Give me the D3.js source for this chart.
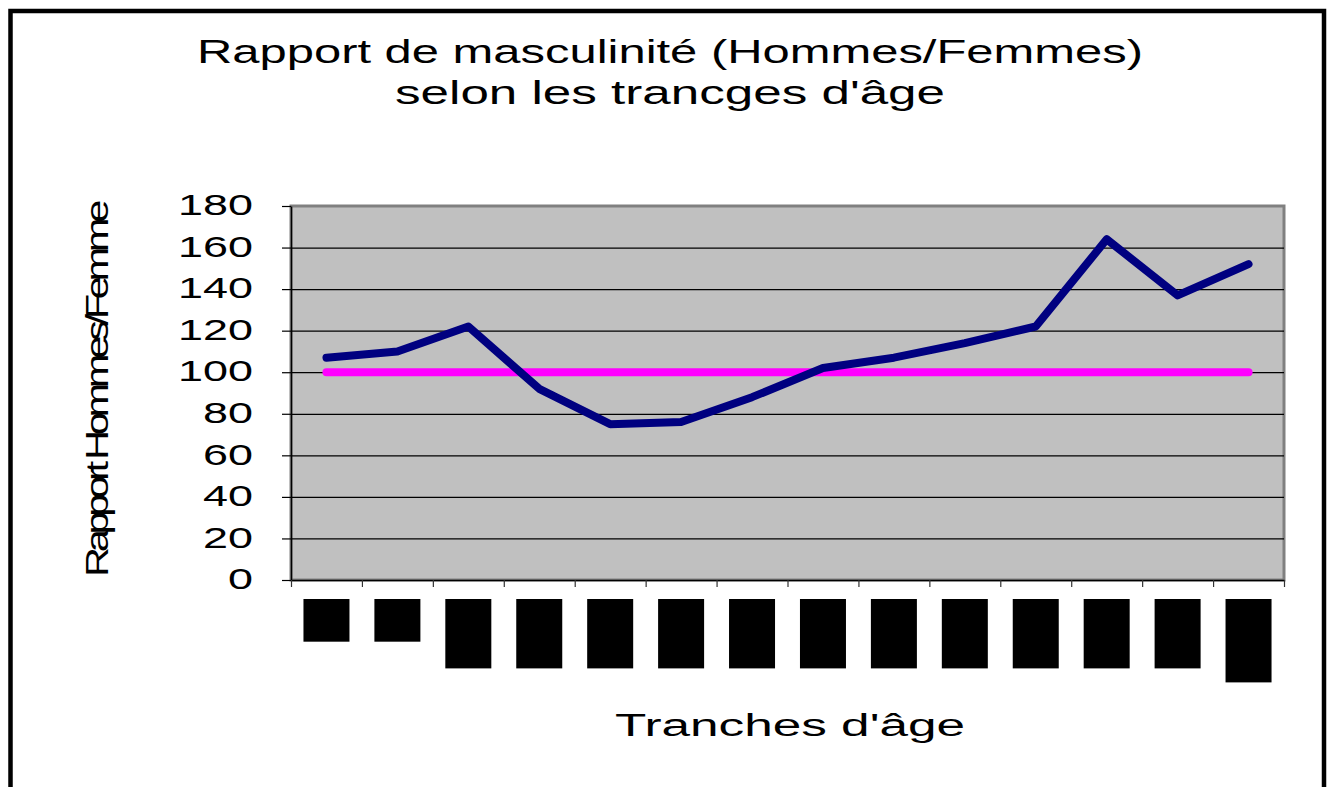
<!DOCTYPE html>
<html>
  <head>
    <meta charset="utf-8" />
    <script src="https://d3js.org/d3.v7.min.js"></script>
    <title>Rapport de masculinité</title>
    <style>
        body { margin: 0; background: #fff; }
        text { font-family: "Liberation Sans", Arial, sans-serif; fill: #000; }
    </style>
  </head>
  <body>
    <svg id="chart" width="1333" height="787"></svg>

    <script>
    // data
    var trancheLabels = ["0-4", "5-9", "10-14", "15-19", "20-24", "25-29", "30-34",
                         "35-39", "40-44", "45-49", "50-54", "55-59", "60-64", "65 et +"];
    var rapportValues = [107, 110, 122, 92, 75, 76, 88, 102, 107, 114, 122, 164, 137, 152];
    var referenceValues = [100, 100, 100, 100, 100, 100, 100, 100, 100, 100, 100, 100, 100, 100];
    var yTicks = [0, 20, 40, 60, 80, 100, 120, 140, 160, 180];

    var svg = d3.select("#chart");
    var plotLeft = 291, plotRight = 1284, plotTop = 206, plotBottom = 580;
    var stretch = 1.55; // the whole picture looks stretched sideways

    // outer frame, bottom edge runs off the page
    svg.append("rect")
        .attr("x", 10.5).attr("y", 11)
        .attr("width", 1313.5).attr("height", 800)
        .attr("fill", "none").attr("stroke", "#000").attr("stroke-width", 4.5);

    var x = d3.scaleBand().domain(trancheLabels).range([plotLeft, plotRight]).padding(0);
    var xEdges = d3.scaleLinear().domain([0, trancheLabels.length]).range([plotLeft, plotRight]);
    var y = d3.scaleLinear().domain([0, 180]).range([plotBottom, plotTop]);

    // plot area
    svg.append("rect")
        .attr("x", plotLeft).attr("y", plotTop)
        .attr("width", plotRight - plotLeft).attr("height", plotBottom - plotTop)
        .attr("fill", "#c0c0c0").attr("stroke", "#808080").attr("stroke-width", 3);

    // gridlines
    svg.append("g")
        .attr("transform", "translate(" + plotLeft + ",0)")
        .call(d3.axisLeft(y).tickValues(yTicks.slice(1, -1)).tickSize(-(plotRight - plotLeft)).tickFormat(""))
        .call(function(g){ g.select(".domain").remove(); })
        .selectAll("line").attr("stroke", "#000").attr("stroke-width", 1.2);

    // y axis
    var yAxis = svg.append("g")
        .attr("transform", "translate(" + plotLeft + ",0)")
        .call(d3.axisLeft(y).tickValues(yTicks).tickSizeInner(9).tickSizeOuter(0));
    yAxis.select(".domain").attr("stroke", "#000").attr("stroke-width", 1.5);
    yAxis.selectAll("line").attr("stroke", "#000").attr("stroke-width", 1.2);
    yAxis.selectAll("text")
        .style("font-size", "29px")
        .attr("x", -38 / stretch)
        .attr("dy", "0.30em")
        .attr("transform", "scale(" + stretch + ",1)");

    // x axis, ticks between the groups
    var xAxis = svg.append("g")
        .attr("transform", "translate(0," + plotBottom + ")")
        .call(d3.axisBottom(xEdges).ticks(trancheLabels.length).tickSizeInner(7).tickSizeOuter(0).tickFormat(""));
    xAxis.select(".domain").attr("stroke", "#000").attr("stroke-width", 1.5);
    xAxis.selectAll("line").attr("stroke", "#333").attr("stroke-width", 1.2);

    // category labels, shown as solid black blocks like in the original
    var labs = svg.append("g").selectAll("g")
        .data(trancheLabels)
        .enter().append("g")
        .attr("transform", function(d){ return "translate(" + (x(d) + x.bandwidth() / 2) + ",599)"; });

    labs.append("text")
        .attr("transform", "rotate(-90)")
        .attr("text-anchor", "end")
        .attr("dy", "0.35em")
        .style("font-size", "24px")
        .style("font-weight", "bold")
        .text(function(d){ return d; });

    labs.each(function(){
        var g = d3.select(this);
        var len = g.select("text").node().getComputedTextLength();
        g.insert("rect", "text")
            .attr("x", -23).attr("y", 0)
            .attr("width", 46).attr("height", len + 8)
            .attr("fill", "#000");
    });

    // lines
    var line = d3.line()
        .x(function(d, i){ return x(trancheLabels[i]) + x.bandwidth() / 2; })
        .y(function(d){ return y(d); });

    svg.append("path")
        .datum(referenceValues)
        .attr("d", line)
        .attr("fill", "none").attr("stroke", "#ff00ff")
        .attr("stroke-width", 8).attr("stroke-linecap", "round");

    svg.append("path")
        .datum(rapportValues)
        .attr("d", line)
        .attr("fill", "none").attr("stroke", "#000080")
        .attr("stroke-width", 8).attr("stroke-linecap", "round").attr("stroke-linejoin", "round");

    // titles
    svg.append("text")
        .attr("x", 670).attr("y", 63)
        .attr("text-anchor", "middle")
        .attr("textLength", 946).attr("lengthAdjust", "spacingAndGlyphs")
        .style("font-size", "33px")
        .text("Rapport de masculinité (Hommes/Femmes)");

    svg.append("text")
        .attr("x", 670).attr("y", 104)
        .attr("text-anchor", "middle")
        .attr("textLength", 550).attr("lengthAdjust", "spacingAndGlyphs")
        .style("font-size", "33px")
        .text("selon les trancges d'âge");

    svg.append("text")
        .attr("x", 790).attr("y", 736)
        .attr("text-anchor", "middle")
        .attr("textLength", 350).attr("lengthAdjust", "spacingAndGlyphs")
        .style("font-size", "31px")
        .text("Tranches d'âge");

    // y title, squeezed so the letters run into each other
    var yTitle = svg.append("g")
        .attr("transform", "translate(108,391) rotate(-90) scale(1.3,1)")
        .append("text")
        .attr("text-anchor", "middle")
        .style("font-size", "32px")
        .text("Rapport Hommes/Femme");
    var natural = yTitle.node().getComputedTextLength();
    var n = "Rapport Hommes/Femme".length;
    yTitle.style("letter-spacing", ((372 / 1.3 - natural) / n) + "px");
    </script>
  </body>
</html>
